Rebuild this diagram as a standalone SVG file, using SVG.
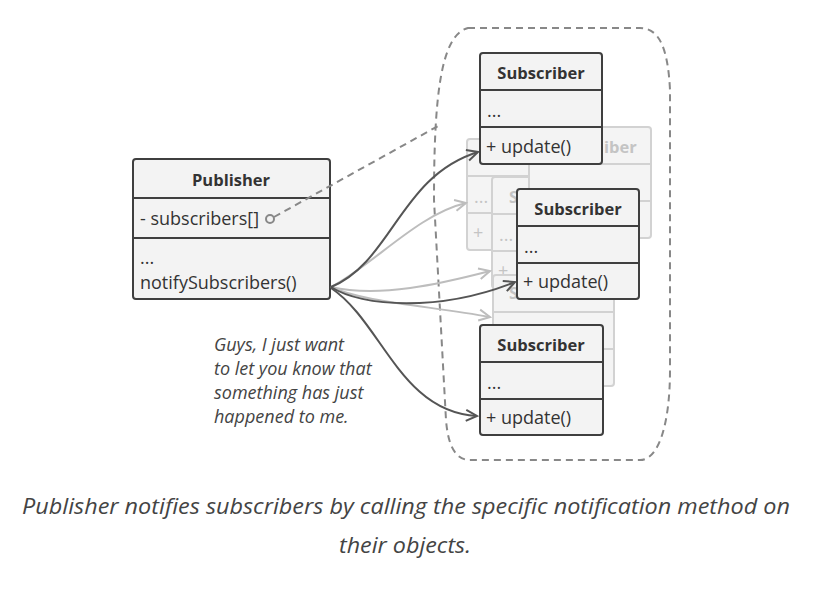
<svg xmlns="http://www.w3.org/2000/svg" width="820" height="600" viewBox="0 0 820 600">
  <style>
    .box { fill: #f3f3f3; stroke: #3f3f3f; stroke-width: 2; }
    .ghost { fill: #f4f4f4; stroke: #d2d2d2; stroke-width: 2; }
    .t { font-family: "Open Sans", "Noto Sans", sans-serif; font-size: 18px; fill: #333; }
    .h { font-family: "Open Sans", "Noto Sans", sans-serif; font-size: 16.5px; font-weight: bold; fill: #333; text-anchor: middle; }
    .gt { font-family: "Open Sans", "Noto Sans", sans-serif; font-size: 18px; fill: #c4c4c4; }
    .gh { font-family: "Open Sans", "Noto Sans", sans-serif; font-size: 16.5px; font-weight: bold; fill: #c4c4c4; }
    .it { font-family: "Open Sans", "Noto Sans", sans-serif; font-style: italic; fill: #444; }
    .dark { fill: none; stroke: #555; stroke-width: 2; marker-end: url(#arrowDark); }
    .light { fill: none; stroke: #bdbdbd; stroke-width: 2; marker-end: url(#arrowLight); }
    .dash { fill: none; stroke: #888; stroke-width: 2; stroke-dasharray: 7 5; }
  </style>
  <defs>
    <marker id="arrowDark" viewBox="0 0 14 14" refX="12" refY="7" markerWidth="14" markerHeight="14" markerUnits="userSpaceOnUse" orient="auto">
      <path d="M1,1.5 L12,7 L1,12.5" fill="none" stroke="#555" stroke-width="2"/>
    </marker>
    <marker id="arrowLight" viewBox="0 0 14 14" refX="12" refY="7" markerWidth="14" markerHeight="14" markerUnits="userSpaceOnUse" orient="auto">
      <path d="M1,1.5 L12,7 L1,12.5" fill="none" stroke="#bdbdbd" stroke-width="2"/>
    </marker>
  </defs>
  <rect width="820" height="600" fill="#ffffff"/>

  <!-- subscriber collection boundary -->
  <path id="collection" class="dash" d="M468,28 H640 C660,28 668,50 670,90 V370 C670,420 660,460 640,460 H470 C455,460 448,445 446,420 L434,200 C434,100 440,35 468,28 Z"/>

  <!-- background subscribers (only their uncovered labels are drawn) -->
  <g id="ghost-2">
    <rect class="ghost" x="467" y="139" width="122" height="111" rx="3"/>
    <line class="ghost" x1="467" y1="176" x2="589" y2="176"/>
    <line class="ghost" x1="467" y1="213" x2="589" y2="213"/>
    <text class="gt" x="474" y="203">...</text>
    <text class="gt" x="473" y="239">+</text>
  </g>
  <g id="ghost-3">
    <rect class="ghost" x="492" y="177" width="122" height="111" rx="3"/>
    <line class="ghost" x1="492" y1="214" x2="614" y2="214"/>
    <line class="ghost" x1="492" y1="251" x2="614" y2="251"/>
    <text class="gh" x="509" y="203">S</text>
    <text class="gt" x="499" y="241">...</text>
    <text class="gt" x="498" y="277">+</text>
  </g>
  <g id="ghost-4">
    <rect class="ghost" x="493" y="275" width="121" height="111" rx="3"/>
    <line class="ghost" x1="493" y1="312" x2="614" y2="312"/>
    <line class="ghost" x1="493" y1="349" x2="614" y2="349"/>
    <text class="gh" x="509" y="299">S</text>
  </g>
  <g id="ghost-1">
    <rect class="ghost" x="529" y="127" width="122" height="111" rx="3"/>
    <line class="ghost" x1="529" y1="164" x2="651" y2="164"/>
    <line class="ghost" x1="529" y1="201" x2="651" y2="201"/>
    <text class="gh" x="604" y="153">iber</text>
  </g>

  <!-- publisher -->
  <g id="publisher">
    <rect class="box" x="133" y="159" width="197" height="140" rx="3"/>
    <line class="box" x1="133" y1="198" x2="330" y2="198"/>
    <line class="box" x1="133" y1="238" x2="330" y2="238"/>
    <text class="h" x="231" y="186">Publisher</text>
    <text class="t" x="140" y="225">- subscribers[]</text>
    <text class="t" x="140" y="264">...</text>
    <text class="t" x="140" y="289">notifySubscribers()</text>
  </g>

  <!-- connectors -->
  <g id="connectors">
    <path class="dash" d="M274,217 L440,125"/>
    <circle cx="270" cy="219" r="4" fill="#f3f3f3" stroke="#888" stroke-width="2"/>
    <path class="light" d="M331,287 C372,266 418,214 466,203"/>
    <path class="light" d="M331,287 C380,298 440,284 490,271"/>
    <path class="light" d="M331,287 C362,302 430,306 490,317"/>
    <path class="dark" d="M331,287 C392,262 400,176 478,152"/>
    <path class="dark" d="M331,287 C362,307 440,312 515,282"/>
    <path class="dark" d="M331,288 C382,322 400,412 477,416"/>
  </g>

  <!-- subscribers -->
  <g id="subscriber-1">
    <rect class="box" x="480" y="53" width="122" height="111" rx="3"/>
    <line class="box" x1="480" y1="90" x2="602" y2="90"/>
    <line class="box" x1="480" y1="127" x2="602" y2="127"/>
    <text class="h" x="541" y="79">Subscriber</text>
    <text class="t" x="487" y="117">...</text>
    <text class="t" x="486" y="153">+ update()</text>
  </g>
  <g id="subscriber-2">
    <rect class="box" x="517" y="189" width="122" height="110" rx="3"/>
    <line class="box" x1="517" y1="226" x2="639" y2="226"/>
    <line class="box" x1="517" y1="263" x2="639" y2="263"/>
    <text class="h" x="578" y="215">Subscriber</text>
    <text class="t" x="524" y="253">...</text>
    <text class="t" x="523" y="288">+ update()</text>
  </g>
  <g id="subscriber-3">
    <rect class="box" x="480" y="325" width="123" height="110" rx="3"/>
    <line class="box" x1="480" y1="362" x2="603" y2="362"/>
    <line class="box" x1="480" y1="399" x2="603" y2="399"/>
    <text class="h" x="541" y="351">Subscriber</text>
    <text class="t" x="487" y="389">...</text>
    <text class="t" x="486" y="424">+ update()</text>
  </g>

  <!-- publisher's remark -->
  <g id="remark" class="it" font-size="18">
    <text x="214" y="351">Guys, I just want</text>
    <text x="214" y="375">to let you know that</text>
    <text x="214" y="399">something has just</text>
    <text x="214" y="423">happened to me.</text>
  </g>

  <!-- caption -->
  <g id="caption" class="it" font-size="22" text-anchor="middle">
    <text x="406" y="514" textLength="768" lengthAdjust="spacingAndGlyphs">Publisher notifies subscribers by calling the specific notification method on</text>
    <text x="405" y="553" textLength="132" lengthAdjust="spacingAndGlyphs">their objects.</text>
  </g>
</svg>
